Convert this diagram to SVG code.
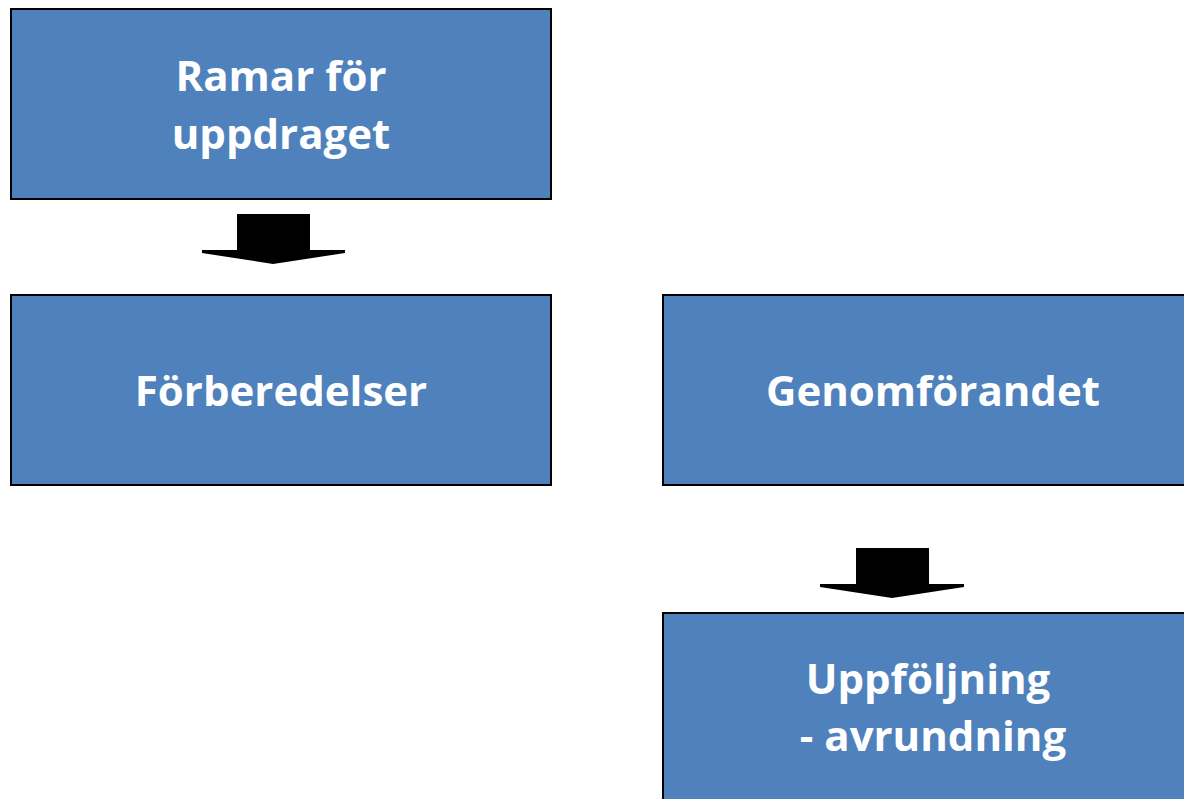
<svg xmlns="http://www.w3.org/2000/svg" width="1184" height="799" viewBox="0 0 1184 799">
<style>
.box{fill:#4F81BD;stroke:#000;stroke-width:2}
.lbl{fill:#fff;font-family:"Open Sans","Liberation Sans",sans-serif;font-weight:bold;font-size:42px;text-anchor:middle}
.arr{fill:#000}
</style>
<rect width="1184" height="799" fill="#fff"/>
<g id="node-ramar">
<rect class="box" x="11" y="9" width="540" height="190"/>
<text class="lbl" x="281" y="91">Ramar för</text>
<text class="lbl" x="281" y="149">uppdraget</text>
</g>
<g id="node-forberedelser">
<rect class="box" x="11" y="295" width="540" height="190"/>
<text class="lbl" x="281" y="406">Förberedelser</text>
</g>
<g id="node-genomforandet">
<rect class="box" x="663" y="295" width="540" height="190"/>
<text class="lbl" x="933" y="406">Genomförandet</text>
</g>
<g id="node-uppfoljning">
<rect class="box" x="663" y="613" width="540" height="200"/>
<text class="lbl" x="928" y="694">Uppföljning</text>
<text class="lbl" x="933" y="751">- avrundning</text>
</g>
<g id="connectors">
<polygon class="arr" points="237,214 310,214 310,250 345,250 345,253 273,264 202,253 202,250 237,250"/>
<polygon class="arr" points="856,548 929,548 929,584 964,584 964,587 892,598 820,587 820,584 856,584"/>
</g>
</svg>
